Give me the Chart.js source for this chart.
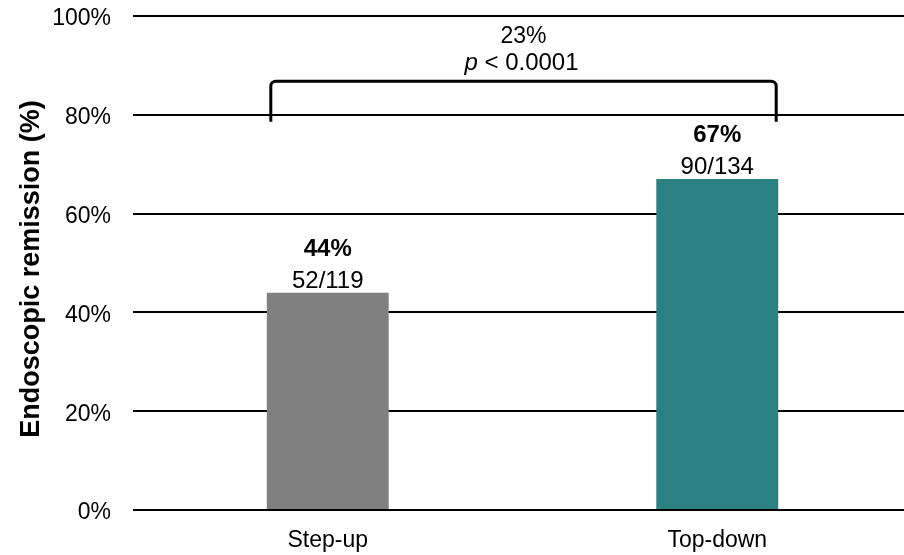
<!DOCTYPE html>
<html>
<head>
<meta charset="utf-8">
<script src="https://cdn.jsdelivr.net/npm/chart.js@4.4.1/dist/chart.umd.min.js"></script>
<style>
  html, body { margin: 0; padding: 0; background: #fff; width: 904px; height: 555px; overflow: hidden; }
  #wrap { width: 916px; height: 555px; }
  canvas { display: block; }
</style>
</head>
<body>
<div id="wrap"><canvas id="chart" width="916" height="555"></canvas></div>
<script>
// Endoscopic remission by treatment strategy
const categories = ['Step-up', 'Top-down'];
const remissionPct = [44, 67];
const responders = [52, 90];
const patients = [119, 134];
const barColors = ['#808080', '#2a8182'];
const yTicks = [0, 20, 40, 60, 80, 100];
const yTitle = 'Endoscopic remission (%)';
const pValueText = '< 0.0001';

const FONT = '"Liberation Sans", Arial, Helvetica, sans-serif';

// Axis title, value labels above the bars and the comparison bracket
const annotate = {
  id: 'annotate',
  afterDatasetsDraw(chart) {
    const { ctx, chartArea } = chart;
    const meta = chart.getDatasetMeta(0);
    const y = chart.scales.y;
    ctx.save();
    ctx.fillStyle = '#000';

    // rotated y-axis title
    ctx.save();
    ctx.translate(32, (chartArea.top + chartArea.bottom) / 2 + 6);
    ctx.rotate(-Math.PI / 2);
    ctx.textAlign = 'center';
    ctx.textBaseline = 'middle';
    ctx.font = 'bold 27px ' + FONT;
    ctx.fillText(yTitle, 0, 0);
    ctx.restore();

    ctx.textAlign = 'center';
    ctx.textBaseline = 'alphabetic';
    meta.data.forEach((bar, i) => {
      ctx.font = 'bold 24px ' + FONT;
      ctx.fillText(remissionPct[i] + '%', bar.x, bar.y - 37);
      ctx.font = '24px ' + FONT;
      ctx.fillText(responders[i] + '/' + patients[i], bar.x, bar.y - 5);
    });

    const b0 = meta.data[0], b1 = meta.data[1];
    const xL = b0.x - b0.width / 2 + 4;
    const xR = b1.x + b1.width / 2 - 2;
    const yTop = y.getPixelForValue(86.8);
    const yFoot = y.getPixelForValue(78.6);
    ctx.strokeStyle = '#000';
    ctx.lineWidth = 3;
    ctx.lineJoin = 'round';
    ctx.beginPath();
    ctx.moveTo(xL, yFoot);
    ctx.arcTo(xL, yTop, xR, yTop, 5);
    ctx.arcTo(xR, yTop, xR, yFoot, 5);
    ctx.lineTo(xR, yFoot);
    ctx.stroke();

    const cx = (xL + xR) / 2;
    const diff = remissionPct[1] - remissionPct[0];
    ctx.font = '23px ' + FONT;
    ctx.fillText(diff + '%', cx, yTop - 38);

    ctx.font = 'italic 24px ' + FONT;
    const wp = ctx.measureText('p').width;
    ctx.font = '24px ' + FONT;
    const rest = ' ' + pValueText;
    const wr = ctx.measureText(rest).width;
    const x0 = cx - 2 - (wp + wr) / 2;
    ctx.textAlign = 'left';
    ctx.font = 'italic 24px ' + FONT;
    ctx.fillText('p', x0, yTop - 11);
    ctx.font = '24px ' + FONT;
    ctx.fillText(rest, x0 + wp, yTop - 11);
    ctx.restore();
  }
};

new Chart(document.getElementById('chart'), {
  type: 'bar',
  data: {
    labels: categories,
    datasets: [{
      data: remissionPct,
      backgroundColor: barColors,
      borderWidth: 0,
      categoryPercentage: 1,
      barPercentage: 0.313
    }]
  },
  options: {
    responsive: false,
    animation: false,
    devicePixelRatio: 1,
    layout: { padding: { top: 16, right: 4, bottom: 0, left: 0 } },
    plugins: { legend: { display: false }, tooltip: { enabled: false } },
    scales: {
      x: {
        grid: { display: false, drawTicks: false },
        border: { display: false },
        ticks: { color: '#000', font: { family: FONT, size: 23 }, padding: 17 },
        afterFit(s) { s.height = 45; s.paddingLeft = 0; s.paddingRight = 0; }
      },
      y: {
        min: 0,
        max: 100,
        afterBuildTicks(s) { s.ticks = yTicks.map(v => ({ value: v })); },
        grid: { color: '#000', lineWidth: 2, drawTicks: false },
        border: { display: false },
        ticks: { color: '#000', font: { family: FONT, size: 23 }, padding: 22, labelOffset: 3, callback: v => v + '%' },
        afterFit(s) { s.width = 133; s.paddingTop = 0; s.paddingBottom = 0; }
      }
    }
  },
  plugins: [annotate]
});
</script>
</body>
</html>
